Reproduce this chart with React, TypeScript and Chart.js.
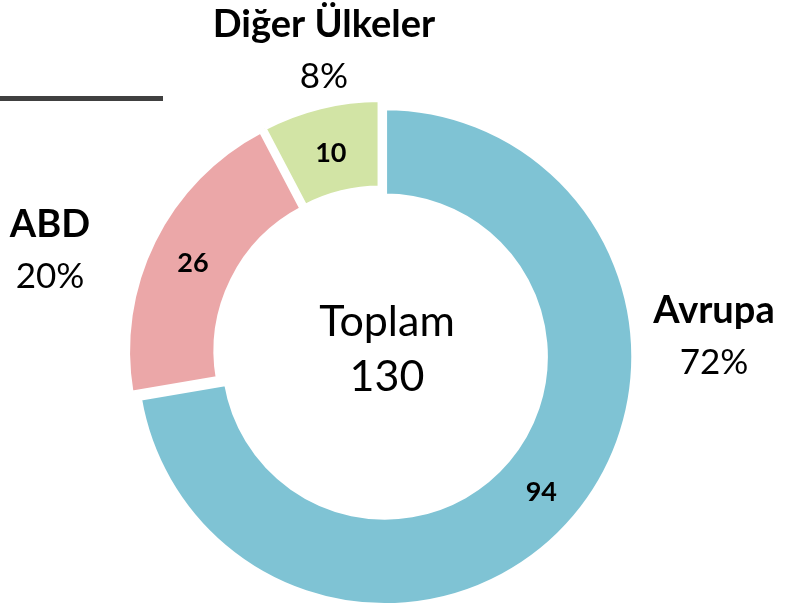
import React, { useEffect, useRef } from "react";
import { Chart, registerables } from "chart.js";

Chart.register(...registerables);

// ---- data ----
const categories = ["Avrupa", "ABD", "Diğer Ülkeler"];
const values = [94, 26, 10];
const centerTitle = "Toplam";

// ---- styles / layout ----
const colors = ["#7fc3d4", "#eba7a8", "#d2e4a5"];
const FONT = "Lato, 'Noto Sans', sans-serif";
const EXPLODE = 5;
// baseline anchor of each outside label's name line (category order)
const outsideLabelAnchor = [
  { x: 714, y: 323 },
  { x: 50, y: 237 },
  { x: 324, y: 37 },
];

const total = values.reduce((a, b) => a + b, 0);

const explodePlugin = {
  id: "explodeArcs",
  beforeDatasetDraw(chart: any, args: any) {
    const ctx = chart.ctx;
    args.meta.data.forEach((arc: any) => {
      const mid = (arc.startAngle + arc.endAngle) / 2;
      ctx.save();
      ctx.translate(Math.cos(mid) * EXPLODE, Math.sin(mid) * EXPLODE);
      arc.draw(ctx);
      ctx.restore();
    });
    return false;
  },
};

const labelPlugin = {
  id: "labels",
  afterDraw(chart: any) {
    const ctx = chart.ctx;
    const meta = chart.getDatasetMeta(0);
    ctx.save();
    // decorative rule at top-left
    ctx.fillStyle = "#404040";
    ctx.fillRect(0, 96, 163, 5);

    ctx.fillStyle = "#000";
    ctx.textAlign = "center";
    ctx.textBaseline = "alphabetic";

    // value labels inside arcs
    meta.data.forEach((arc: any, i: number) => {
      const mid = (arc.startAngle + arc.endAngle) / 2;
      const p = arc.tooltipPosition();
      const x = p.x + Math.cos(mid) * EXPLODE;
      const y = p.y + Math.sin(mid) * EXPLODE;
      ctx.font = `bold 27px ${FONT}`;
      ctx.fillText(String(values[i]), x, y + 12);
    });

    // outside category labels
    categories.forEach((name, i) => {
      const a = outsideLabelAnchor[i];
      ctx.font = `bold 38px ${FONT}`;
      ctx.fillText(name, a.x, a.y);
      ctx.font = `35px ${FONT}`;
      ctx.fillText(`${Math.round((values[i] / total) * 100)}%`, a.x, a.y + 51);
    });

    // center text
    const arc0 = meta.data[0];
    const cx = arc0.x + 6;
    const cy = arc0.y;
    ctx.font = `43px ${FONT}`;
    ctx.fillText(centerTitle, cx, cy - 17);
    ctx.fillText(String(total), cx, cy + 38);
    ctx.restore();
  },
};

export default function App() {
  const ref = useRef<HTMLCanvasElement | null>(null);
  useEffect(() => {
    if (!ref.current) return;
    const chart = new Chart(ref.current, {
      type: "doughnut",
      data: {
        labels: categories,
        datasets: [
          {
            data: values,
            backgroundColor: colors,
            borderColor: "#ffffff",
            borderWidth: 4.5,
            hoverBorderWidth: 4.5,
            hoverOffset: 0,
            offset: 0,
          },
        ],
      },
      options: {
        responsive: false,
        animation: false,
        cutout: "64.66%",
        layout: {
          padding: { left: 130.05, top: 102.45, right: 164.05, bottom: 5.65 },
        },
        plugins: {
          legend: { display: false },
          tooltip: { enabled: false },
        },
        events: [],
      },
      plugins: [explodePlugin, labelPlugin],
    });
    return () => chart.destroy();
  }, []);
  return (
    <div style={{ position: "fixed", left: 0, top: 0, width: 796, height: 610, background: "#fff" }}>
      <canvas ref={ref} width={796} height={610} style={{ width: 796, height: 610, display: "block" }} />
    </div>
  );
}
